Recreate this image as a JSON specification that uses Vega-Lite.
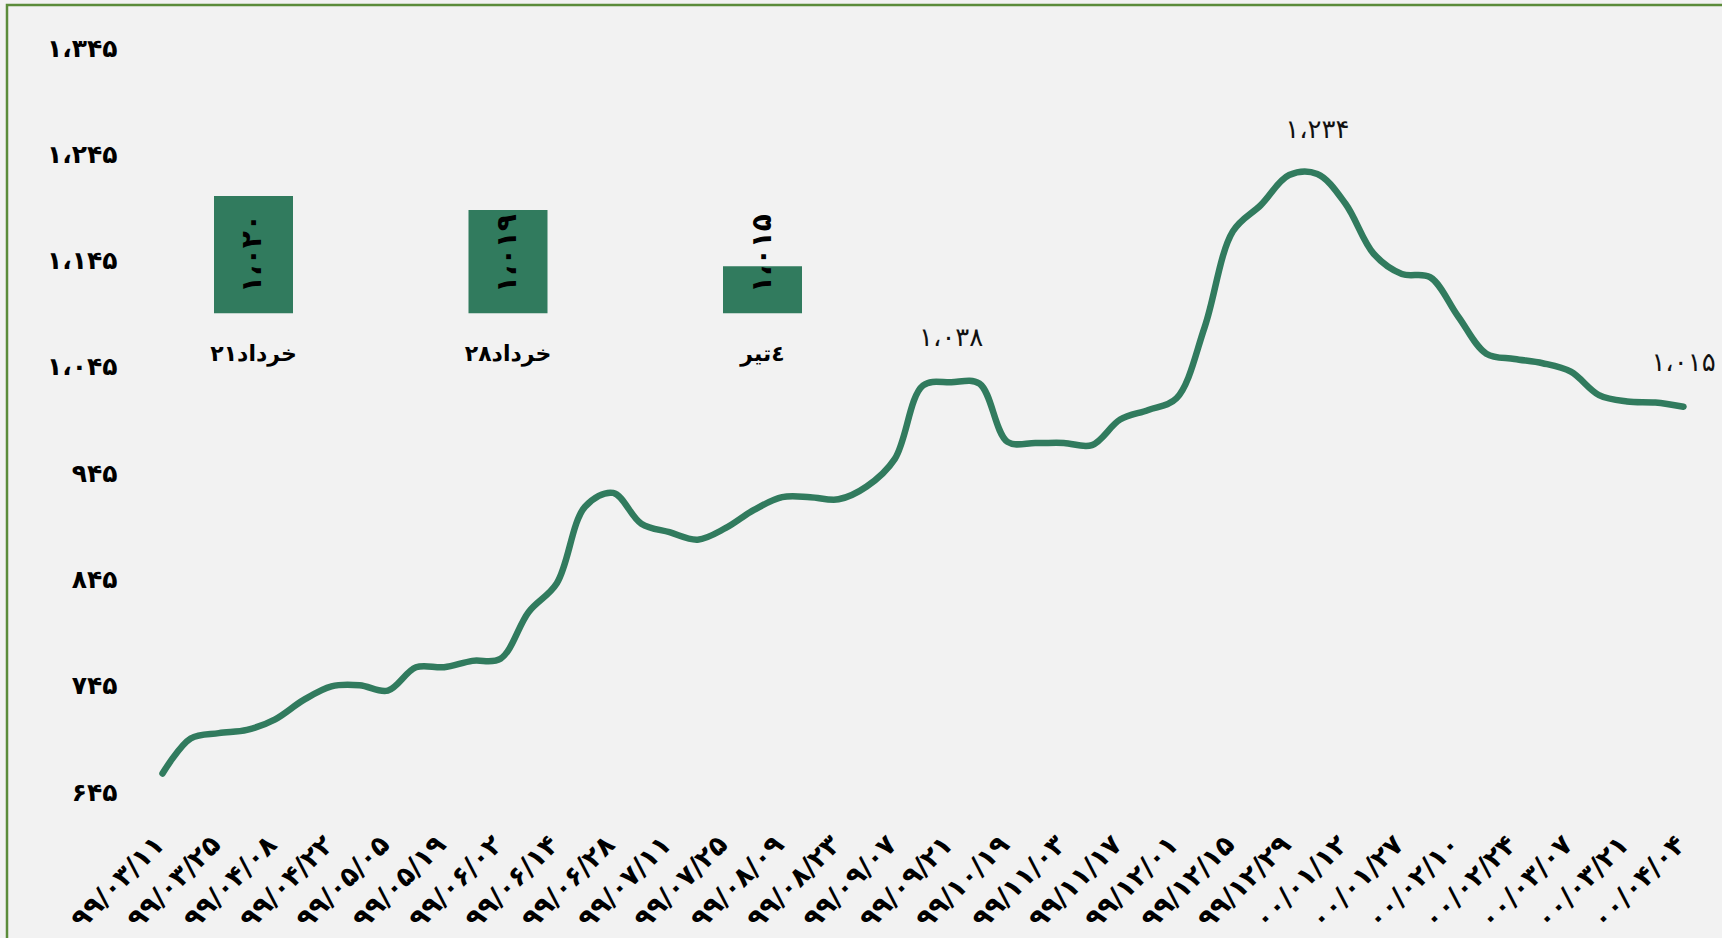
{
  "$schema": "https://vega.github.io/schema/vega-lite/v6.json",
  "width": 1719,
  "height": 937,
  "autosize": {"type": "none"},
  "padding": {"left": 7, "top": 5, "right": -4, "bottom": -4},
  "background": "#f2f2f2",
  "config": {
    "view": {"stroke": "#5b8c3a", "strokeWidth": 2.5},
    "font": "DejaVu Sans",
    "axis": {"grid": false, "domain": false, "ticks": false, "tickSize": 0, "title": null}
  },
  "datasets": {
    "prices": [
      {"date": "۹۹/۰۳/۱۱", "price": 670},
      {"date": "۹۹/۰۳/۱۸", "price": 703},
      {"date": "۹۹/۰۳/۲۵", "price": 708},
      {"date": "۹۹/۰۴/۰۱", "price": 711},
      {"date": "۹۹/۰۴/۰۸", "price": 721},
      {"date": "۹۹/۰۴/۱۵", "price": 739},
      {"date": "۹۹/۰۴/۲۲", "price": 752},
      {"date": "۹۹/۰۴/۲۹", "price": 753},
      {"date": "۹۹/۰۵/۰۵", "price": 748},
      {"date": "۹۹/۰۵/۱۲", "price": 770},
      {"date": "۹۹/۰۵/۱۹", "price": 770},
      {"date": "۹۹/۰۵/۲۶", "price": 776},
      {"date": "۹۹/۰۶/۰۲", "price": 778},
      {"date": "۹۹/۰۶/۰۸", "price": 822},
      {"date": "۹۹/۰۶/۱۴", "price": 849},
      {"date": "۹۹/۰۶/۲۱", "price": 921},
      {"date": "۹۹/۰۶/۲۸", "price": 934},
      {"date": "۹۹/۰۷/۰۴", "price": 905},
      {"date": "۹۹/۰۷/۱۱", "price": 897},
      {"date": "۹۹/۰۷/۱۸", "price": 890},
      {"date": "۹۹/۰۷/۲۵", "price": 901},
      {"date": "۹۹/۰۸/۰۲", "price": 918},
      {"date": "۹۹/۰۸/۰۹", "price": 930},
      {"date": "۹۹/۰۸/۱۶", "price": 930},
      {"date": "۹۹/۰۸/۲۳", "price": 928},
      {"date": "۹۹/۰۸/۳۰", "price": 940},
      {"date": "۹۹/۰۹/۰۷", "price": 966},
      {"date": "۹۹/۰۹/۱۴", "price": 1035},
      {"date": "۹۹/۰۹/۲۱", "price": 1038, "label": "۱،۰۳۸"},
      {"date": "۹۹/۱۰/۰۵", "price": 1037},
      {"date": "۹۹/۱۰/۱۹", "price": 982},
      {"date": "۹۹/۱۰/۲۶", "price": 981},
      {"date": "۹۹/۱۱/۰۳", "price": 981},
      {"date": "۹۹/۱۱/۱۰", "price": 979},
      {"date": "۹۹/۱۱/۱۷", "price": 1003},
      {"date": "۹۹/۱۱/۲۴", "price": 1012},
      {"date": "۹۹/۱۲/۰۱", "price": 1023},
      {"date": "۹۹/۱۲/۰۸", "price": 1090},
      {"date": "۹۹/۱۲/۱۵", "price": 1180},
      {"date": "۹۹/۱۲/۲۲", "price": 1205},
      {"date": "۹۹/۱۲/۲۹", "price": 1233},
      {"date": "۰۰/۰۱/۰۵", "price": 1234, "label": "۱،۲۳۴"},
      {"date": "۰۰/۰۱/۱۲", "price": 1206},
      {"date": "۰۰/۰۱/۱۹", "price": 1159},
      {"date": "۰۰/۰۱/۲۷", "price": 1140},
      {"date": "۰۰/۰۲/۰۳", "price": 1137},
      {"date": "۰۰/۰۲/۱۰", "price": 1100},
      {"date": "۰۰/۰۲/۱۷", "price": 1065},
      {"date": "۰۰/۰۲/۲۴", "price": 1060},
      {"date": "۰۰/۰۲/۳۱", "price": 1056},
      {"date": "۰۰/۰۳/۰۷", "price": 1048},
      {"date": "۰۰/۰۳/۱۴", "price": 1026},
      {"date": "۰۰/۰۳/۲۱", "price": 1020},
      {"date": "۰۰/۰۳/۲۸", "price": 1019},
      {"date": "۰۰/۰۴/۰۴", "price": 1015, "label": "۱،۰۱۵"}
    ],
    "bars": [
      {"cat": "۲۱خرداد", "value": 1020, "valueLabel": "۱،۰۲۰"},
      {"cat": "۲۸خرداد", "value": 1019, "valueLabel": "۱،۰۱۹"},
      {"cat": "٤تیر", "value": 1015, "valueLabel": "۱،۰۱۵"}
    ]
  },
  "layer": [
    {
      "data": {"name": "prices"},
      "encoding": {
        "x": {
          "field": "date", "type": "ordinal", "sort": null,
          "scale": {"type": "point", "range": [155.5, 1676.5], "padding": 0},
          "axis": {
            "values": ["۹۹/۰۳/۱۱", "۹۹/۰۳/۲۵", "۹۹/۰۴/۰۸", "۹۹/۰۴/۲۲", "۹۹/۰۵/۰۵", "۹۹/۰۵/۱۹", "۹۹/۰۶/۰۲", "۹۹/۰۶/۱۴", "۹۹/۰۶/۲۸", "۹۹/۰۷/۱۱", "۹۹/۰۷/۲۵", "۹۹/۰۸/۰۹", "۹۹/۰۸/۲۳", "۹۹/۰۹/۰۷", "۹۹/۰۹/۲۱", "۹۹/۱۰/۱۹", "۹۹/۱۱/۰۳", "۹۹/۱۱/۱۷", "۹۹/۱۲/۰۱", "۹۹/۱۲/۱۵", "۹۹/۱۲/۲۹", "۰۰/۰۱/۱۲", "۰۰/۰۱/۲۷", "۰۰/۰۲/۱۰", "۰۰/۰۲/۲۴", "۰۰/۰۳/۰۷", "۰۰/۰۳/۲۱", "۰۰/۰۴/۰۴"],
            "labelAngle": -45,
            "labelFontSize": 27,
            "labelFontWeight": "bold",
            "labelColor": "#000000",
            "offset": -141.9,
            "labelPadding": 31,
            "labelOffset": -12,
            "labelOverlap": false
          }
        },
        "y": {
          "field": "price", "type": "quantitative",
          "scale": {"domain": [511.5, 1393], "nice": false, "zero": false},
          "axis": {
            "values": [645, 745, 845, 945, 1045, 1145, 1245, 1345],
            "labelExpr": "replace(replace(replace(replace(replace(replace(replace(replace(replace(replace(replace(format(datum.value, ','), ',', '،'), regexp('0','g'), '۰'), regexp('1','g'), '۱'), regexp('2','g'), '۲'), regexp('3','g'), '۳'), regexp('4','g'), '۴'), regexp('5','g'), '۵'), regexp('6','g'), '۶'), regexp('7','g'), '۷'), regexp('8','g'), '۸'), regexp('9','g'), '۹')",
            "labelFontSize": 25,
            "labelFontWeight": "bold",
            "labelColor": "#000000",
            "offset": -110,
            "labelPadding": 0,
            "labelOffset": -8
          }
        }
      },
      "layer": [
        {"mark": {"type": "line", "color": "#317b5e", "strokeWidth": 6.5, "interpolate": "catmull-rom", "strokeCap": "round"}},
        {
          "mark": {"type": "text", "dy": -44, "fontSize": 26, "color": "#111111", "baseline": "middle"},
          "encoding": {"text": {"condition": {"test": "isValid(datum.label)", "field": "label"}, "value": ""}}
        }
      ]
    },
    {
      "data": {"name": "bars"},
      "encoding": {
        "x": {
          "field": "cat", "type": "nominal", "sort": null,
          "scale": {"type": "band", "range": [207, 795], "paddingInner": 0.6896, "paddingOuter": 0},
          "axis": null
        }
      },
      "layer": [
        {
          "mark": {"type": "bar", "color": "#317b5e"},
          "encoding": {
            "y": {"field": "value", "type": "quantitative", "scale": {"domain": [966.94, 1033.59], "nice": false, "zero": false}, "axis": null},
            "y2": {"datum": 1011.66}
          }
        },
        {
          "mark": {"type": "text", "angle": 270, "align": "left", "baseline": "middle", "fontSize": 28, "fontWeight": "bold", "color": "#000000"},
          "encoding": {
            "y": {"datum": 1013.1, "type": "quantitative", "axis": null},
            "text": {"field": "valueLabel"}
          }
        },
        {
          "mark": {"type": "text", "baseline": "middle", "fontSize": 22, "fontWeight": "bold", "color": "#000000"},
          "encoding": {
            "y": {"datum": 1008.77, "type": "quantitative", "axis": null},
            "text": {"field": "cat"}
          }
        }
      ]
    }
  ],
  "resolve": {"scale": {"x": "independent", "y": "independent"}, "axis": {"x": "independent", "y": "independent"}}
}
